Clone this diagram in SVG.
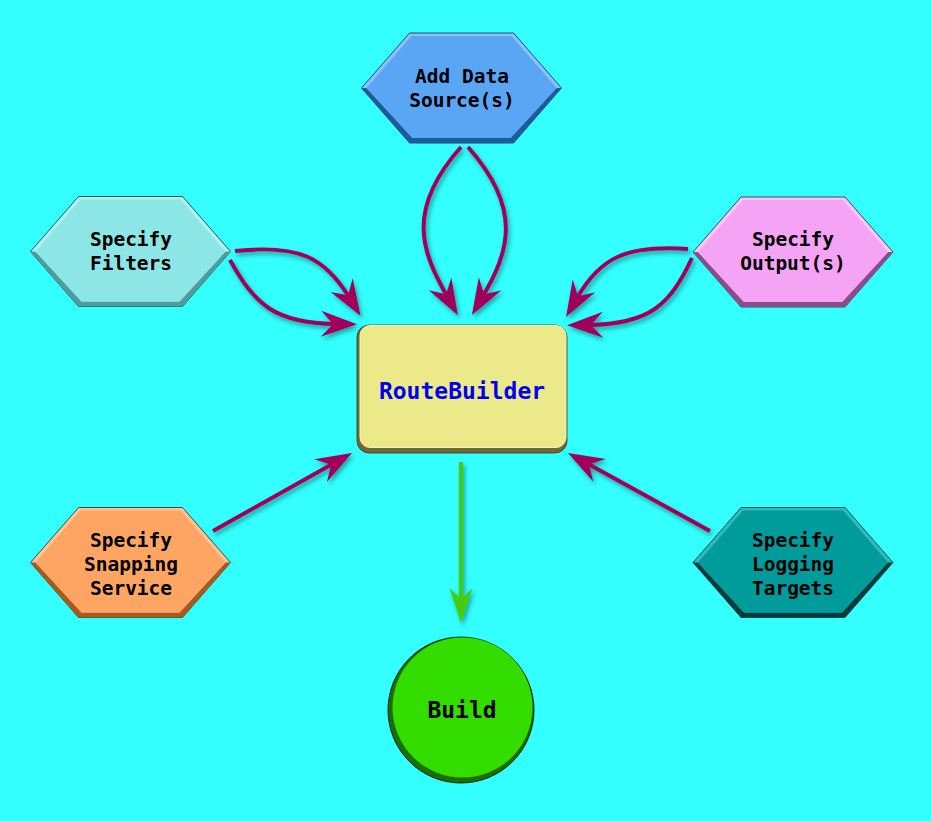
<svg xmlns="http://www.w3.org/2000/svg" xmlns:xlink="http://www.w3.org/1999/xlink" width="931" height="821" viewBox="0 0 931 821">
<style>
.bg{fill:#33ffff}
.lbl{font-family:"DejaVu Sans Mono","Liberation Mono",monospace;font-weight:bold;font-size:19.5px;fill:#000;text-anchor:middle}
.big{font-size:23px}
.edge{fill:none;stroke:#a0005c;stroke-width:4}
.gedge{fill:none;stroke:#44cc11;stroke-width:4}
.outer{stroke:#1a2a2a;stroke-width:0.8}
.blue .lt{fill:#86c2ff}.blue .dk{fill:#1d5a9e}.blue .fc{fill:#5aa6f4}
.cyan .lt{fill:#aef2f2}.cyan .dk{fill:#4e9c9c}.cyan .fc{fill:#8de6e6}
.pink .lt{fill:#f9c6f9}.pink .dk{fill:#8c4c8c}.pink .fc{fill:#f5a3f5}
.orng .lt{fill:#ffc392}.orng .dk{fill:#a65a1c}.orng .fc{fill:#ffa563}
.teal .lt{fill:#2cbcbc}.teal .dk{fill:#003c3c}.teal .fc{fill:#009b9b}
</style>
<defs>
<polygon id="hexO" points="-100,0 -52,-55 52,-55 100,0 52,55 -52,55"/>
<polygon id="hexB" points="-100,0 -95,0 -49,50 49,50 95,0 100,0 52,55 -52,55"/>
<polygon id="hexF" points="-95,0 -50,-52 50,-52 95,0 49,50 -49,50"/>
<filter id="sh" x="-20%" y="-20%" width="140%" height="140%">
<feDropShadow dx="2" dy="3" stdDeviation="2" flood-color="#003030" flood-opacity="0.45"/>
</filter>
<marker id="ah" viewBox="-38 -15 40 30" markerWidth="40" markerHeight="30" refX="-22" refY="0" orient="auto" markerUnits="userSpaceOnUse" overflow="visible">
<path d="M0,0 L-36,-13 L-24,0 L-36,13 Z" fill="#a0005c"/>
</marker>
<marker id="gah" viewBox="-38 -15 40 30" markerWidth="40" markerHeight="30" refX="-22" refY="0" orient="auto" markerUnits="userSpaceOnUse" overflow="visible">
<path d="M0,0 L-35,-11.5 L-24,0 L-35,11.5 Z" fill="#44cc11"/>
</marker>
</defs>
<rect class="bg" x="0" y="0" width="931" height="821"/>

<g id="n-data" class="blue">
<use href="#hexO" x="461.5" y="88" class="lt outer"/>
<use href="#hexB" x="461.5" y="88" class="dk"/>
<use href="#hexF" x="461.5" y="88" class="fc"/>
<text class="lbl" x="462" y="83">Add Data</text>
<text class="lbl" x="462" y="107">Source(s)</text>
</g>

<g id="n-filters" class="cyan">
<use href="#hexO" x="130.5" y="251.5" class="lt outer"/>
<use href="#hexB" x="130.5" y="251.5" class="dk"/>
<use href="#hexF" x="130.5" y="251.5" class="fc"/>
<text class="lbl" x="131" y="246">Specify</text>
<text class="lbl" x="131" y="270">Filters</text>
</g>

<g id="n-output" class="pink">
<use href="#hexO" x="793" y="252" class="lt outer"/>
<use href="#hexB" x="793" y="252" class="dk"/>
<use href="#hexF" x="793" y="252" class="fc"/>
<text class="lbl" x="793" y="246">Specify</text>
<text class="lbl" x="793" y="270">Output(s)</text>
</g>

<g id="n-snapping" class="orng">
<use href="#hexO" x="130.5" y="562.5" class="lt outer"/>
<use href="#hexB" x="130.5" y="562.5" class="dk"/>
<use href="#hexF" x="130.5" y="562.5" class="fc"/>
<text class="lbl" x="131" y="547">Specify</text>
<text class="lbl" x="131" y="571">Snapping</text>
<text class="lbl" x="131" y="595">Service</text>
</g>

<g id="n-logging" class="teal">
<use href="#hexO" x="793" y="562.5" class="lt outer"/>
<use href="#hexB" x="793" y="562.5" class="dk"/>
<use href="#hexF" x="793" y="562.5" class="fc"/>
<text class="lbl" x="793" y="547">Specify</text>
<text class="lbl" x="793" y="571">Logging</text>
<text class="lbl" x="793" y="595">Targets</text>
</g>

<g id="n-routebuilder">
<rect x="357" y="325" width="210" height="128" rx="12" fill="#6f6a35" stroke="#3a3820" stroke-width="0.8"/>
<rect x="360" y="325.5" width="206" height="122" rx="10" fill="#ece98b" stroke="#f4f2b0" stroke-width="1"/>
<text class="lbl big" x="462" y="399" style="fill:#0000ee">RouteBuilder</text>
</g>

<g id="n-build">
<circle cx="461" cy="710" r="73" fill="#1c6e00" stroke="#000" stroke-width="0.8"/>
<circle cx="462.5" cy="707.5" r="70" fill="#33dd00"/>
<text class="lbl big" x="462" y="718">Build</text>
</g>

<g id="connectors" filter="url(#sh)">
<path class="edge" d="M461,147 C405,210 422,252 447,296" marker-end="url(#ah)"/>
<path class="edge" d="M468,147 C524,210 508,253 483,296" marker-end="url(#ah)"/>
<path class="edge" d="M235,251 C300,244 325,258 349,297" marker-end="url(#ah)"/>
<path class="edge" d="M230,260 C255,305 275,323 335,324" marker-end="url(#ah)"/>
<path class="edge" d="M688,249 C625,245 600,258 577,298" marker-end="url(#ah)"/>
<path class="edge" d="M692,258 C670,305 650,324 589,325" marker-end="url(#ah)"/>
<path class="edge" d="M213,531 L332.8,463.8" marker-end="url(#ah)"/>
<path class="edge" d="M710,531 L587.3,463.6" marker-end="url(#ah)"/>
<path class="gedge" d="M461,462 L461,601" marker-end="url(#gah)"/>
</g>
</svg>
